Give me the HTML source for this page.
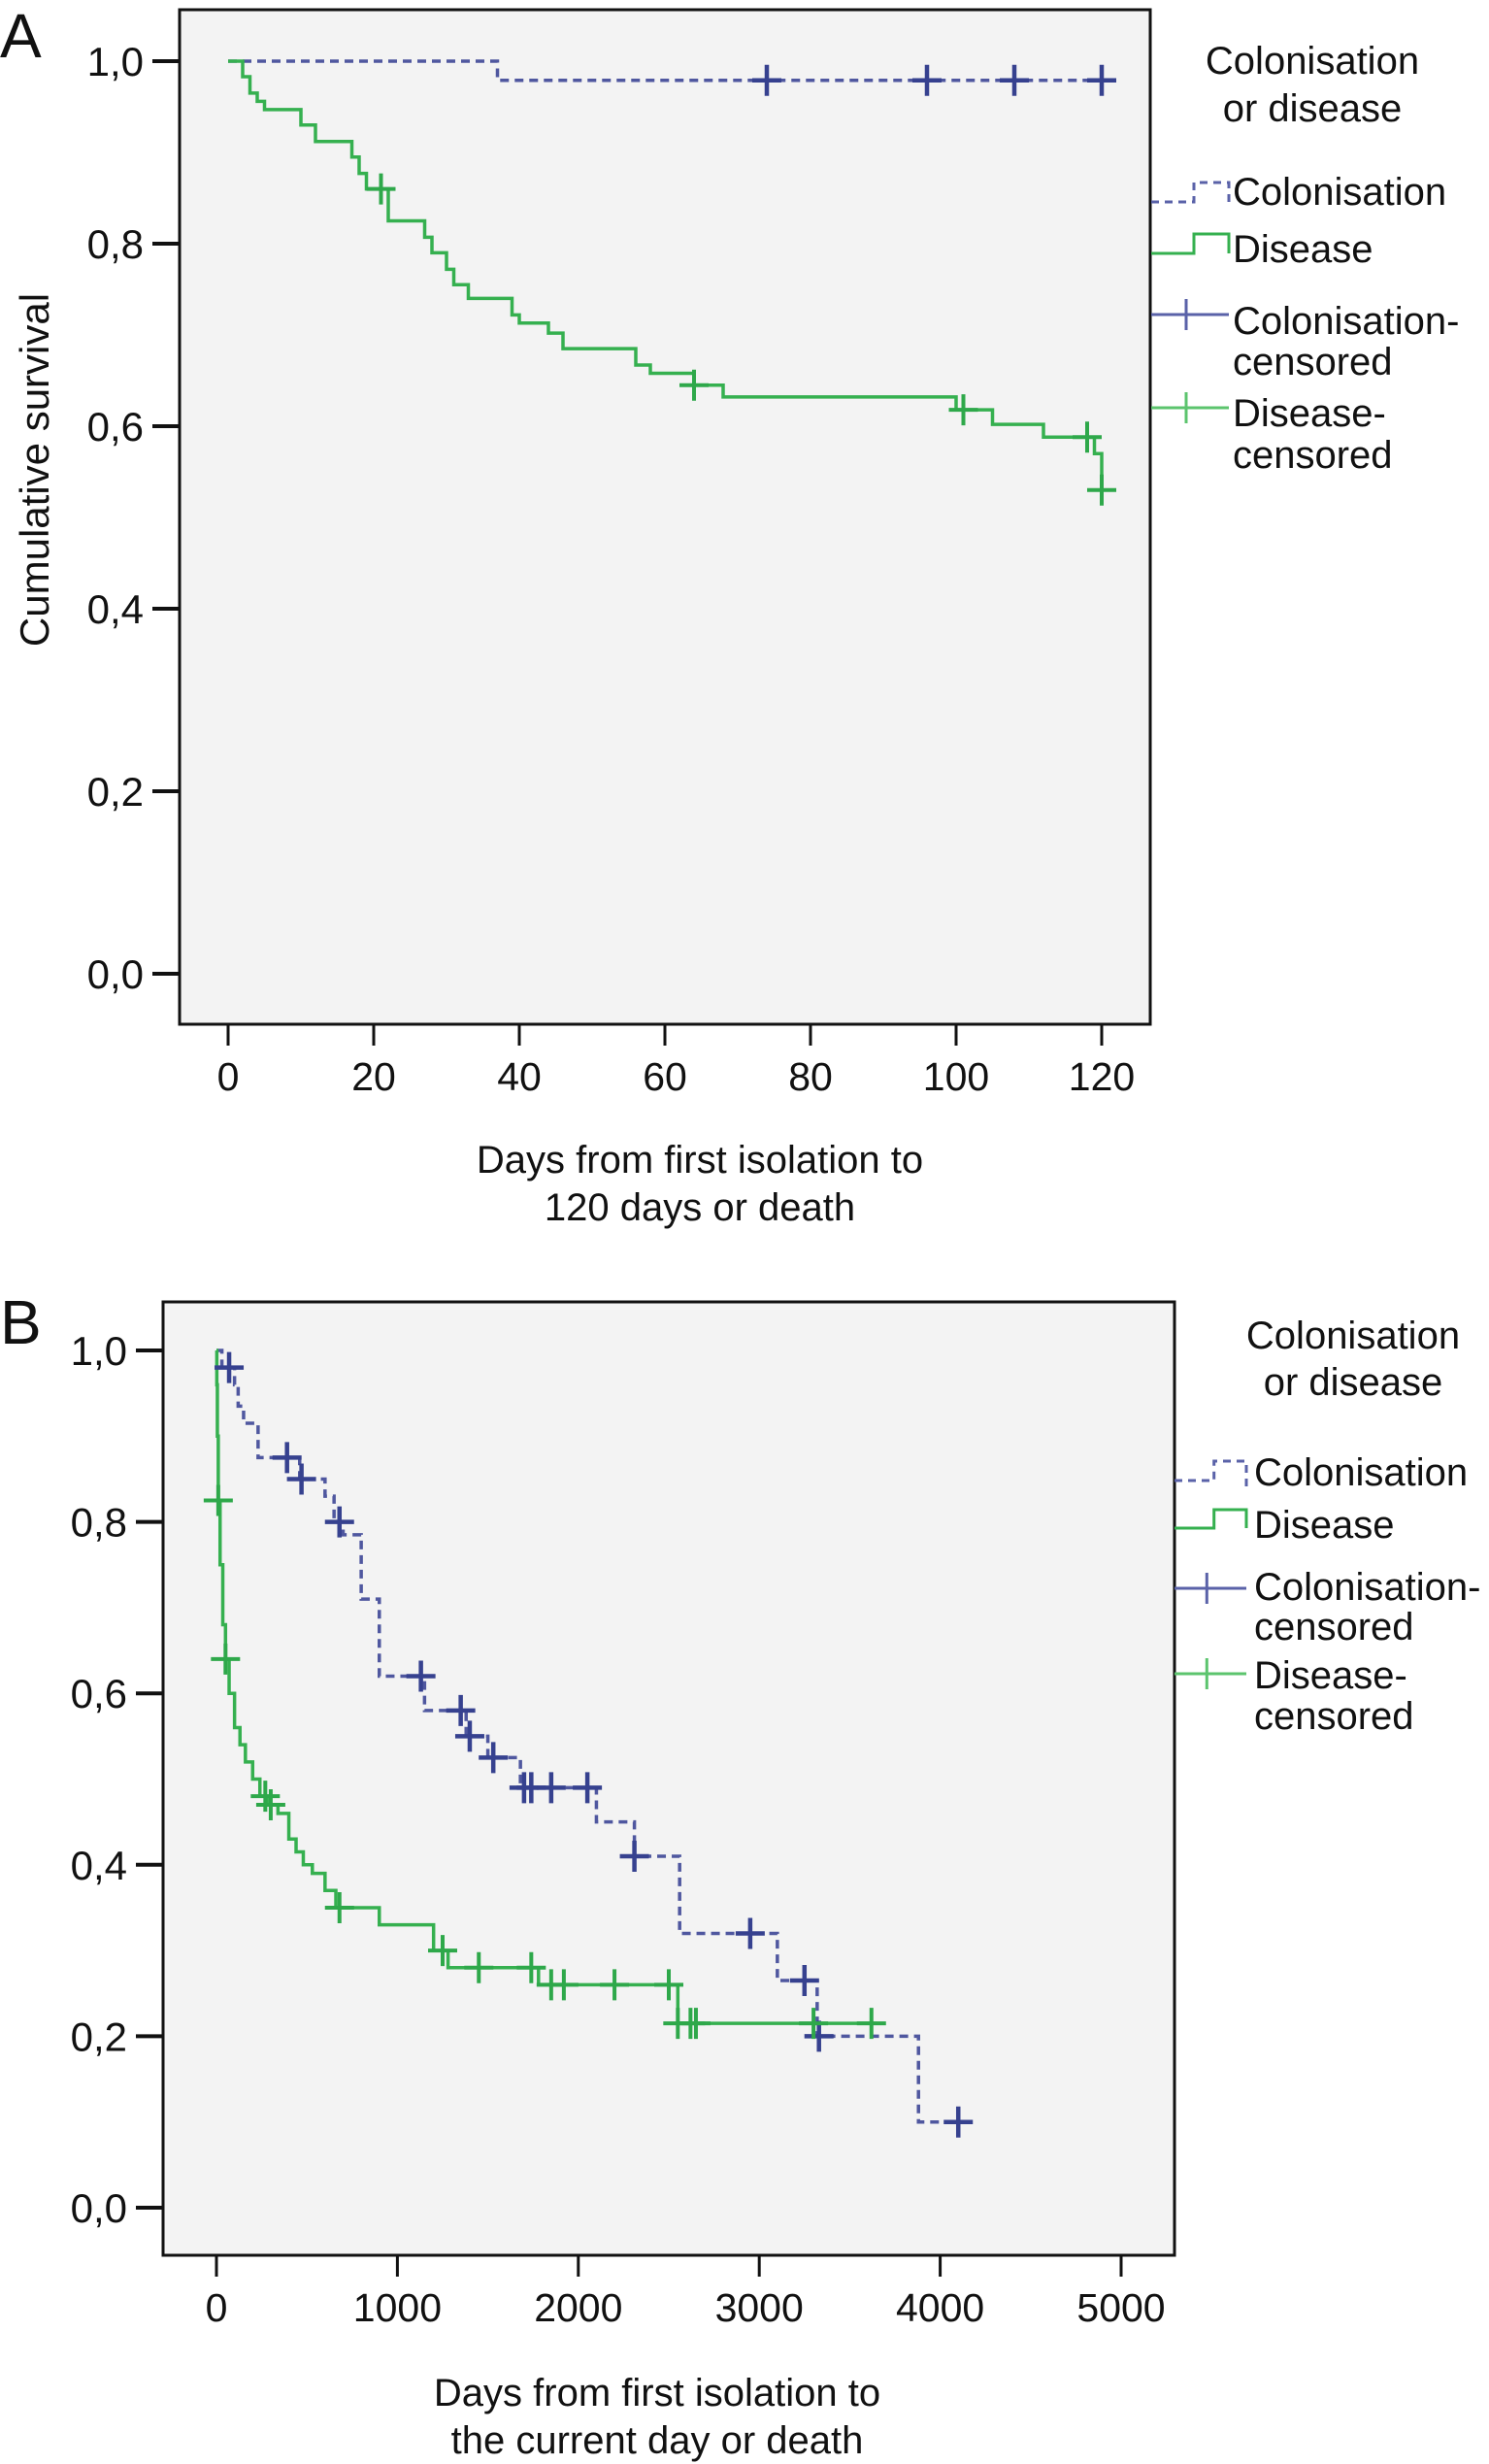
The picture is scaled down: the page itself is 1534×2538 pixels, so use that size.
<!DOCTYPE html>
<html><head><meta charset="utf-8">
<style>
html,body{margin:0;padding:0;background:#fff;}
svg{display:block;font-family:"Liberation Sans",sans-serif;}
</style></head>
<body>
<svg id="fig" width="1534" height="2538" viewBox="0 0 1534 2538" xmlns="http://www.w3.org/2000/svg"></svg>
<script>
// ---------- Panel A data ----------
const aColTimes = [37];
const aColSurv = [0.979];
const aColEnd = 120;
const aColCensor = [74, 96, 108, 120];
const aDisTimes = [2,3,4,5,10,12,14,17,18,19,22,27,28,30,31,33,39,40,44,46,56,58,64,68,100,105,112,119,120];
const aDisSurv = [0.983,0.965,0.956,0.947,0.93,0.912,0.912,0.895,0.877,0.86,0.825,0.807,0.79,0.772,0.755,0.74,0.722,0.713,0.702,0.685,0.667,0.658,0.645,0.632,0.618,0.602,0.588,0.57,0.53];
const aDisEnd = 120;
const aDisCensor = [21, 64, 101, 118, 120];
const aXTicks = [0,20,40,60,80,100,120];
const aYTicks = [0,0.2,0.4,0.6,0.8,1.0];

// ---------- Panel B data ----------
const bColTimes = [30,100,120,150,230,460,600,650,700,800,900,1150,1380,1500,1680,2100,2310,2560,3100,3320,3880];
const bColSurv = [0.98,0.96,0.935,0.915,0.875,0.85,0.83,0.80,0.785,0.71,0.62,0.58,0.55,0.525,0.49,0.45,0.41,0.32,0.265,0.20,0.10];
const bColEnd = 4100;
const bColCensor = [70,390,470,680,1130,1350,1400,1530,1700,1740,1850,2050,2310,2950,3250,3330,4100];
const bDisTimes = [2,5,10,20,35,50,70,100,130,160,200,240,280,340,400,440,480,530,600,660,900,1200,1280,1780,2550];
const bDisSurv = [0.96,0.9,0.825,0.75,0.68,0.64,0.6,0.56,0.54,0.52,0.5,0.48,0.47,0.46,0.43,0.415,0.40,0.39,0.37,0.35,0.33,0.30,0.28,0.26,0.215];
const bDisEnd = 3650;
const bDisCensor = [10,50,270,300,680,1250,1450,1740,1850,1920,2200,2500,2550,2620,2650,3300,3620];
const bXTicks = [0,1000,2000,3000,4000,5000];
const bYTicks = [0,0.2,0.4,0.6,0.8,1.0];

const NS = "http://www.w3.org/2000/svg";
const svg = document.getElementById('fig');
function mk(tag, attrs, parent){
  const e = document.createElementNS(NS, tag);
  for (const k in attrs) e.setAttribute(k, attrs[k]);
  (parent||svg).appendChild(e);
  return e;
}
function fmt(v){ return v.toFixed(1).replace('.', ','); }
function survAt(times, surv, t){
  let s = 1;
  for (let i=0;i<times.length;i++){ if (t >= times[i]) s = surv[i]; }
  return s;
}
function stepPath(times, surv, end, sx, sy){
  let d = 'M' + sx(0) + ' ' + sy(1);
  for (let i=0;i<times.length;i++){
    d += ' H' + sx(times[i]) + ' V' + sy(surv[i]);
  }
  d += ' H' + sx(end);
  return d;
}

function panel(cfg){
  const g = mk('g', {});
  
  
  const sx = v => cfg.x0 + (v - cfg.xmin) / (cfg.xmax - cfg.xmin) * (cfg.x1 - cfg.x0);
  const sy = v => cfg.y0 + v * (cfg.y1 - cfg.y0);
  const bg = mk('rect', {x:cfg.fl, y:cfg.ft, width:cfg.fr-cfg.fl, height:cfg.fb-cfg.ft, fill:'#f3f3f3', stroke:'#111', 'stroke-width':3}, g);
  
  
  cfg.yTicks.forEach(v => {
    const l = mk('line', {x1:cfg.fl-28, x2:cfg.fl, y1:sy(v), y2:sy(v), stroke:'#111', 'stroke-width':4}, g);
    
    
    const t = mk('text', {x:cfg.fl-37, y:sy(v)+15, 'text-anchor':'end', 'font-size':42, fill:'#111'}, g);
    t.textContent = fmt(v);
    
    
  });
  cfg.xTicks.forEach(v => {
    const l = mk('line', {x1:sx(v), x2:sx(v), y1:cfg.fb, y2:cfg.fb+22, stroke:'#111', 'stroke-width':3}, g);
    
    
    const t = mk('text', {x:sx(v), y:cfg.fb+68, 'text-anchor':'middle', 'font-size':41, fill:'#111'}, g);
    t.textContent = String(v);
    
    
  });
  const pc = mk('path', {d:stepPath(cfg.colT, cfg.colS, cfg.colEnd, sx, sy), fill:'none', stroke:'#4f579f', 'stroke-width':3.5, 'stroke-dasharray':'9 6'}, g);
  
  
  const pd = mk('path', {d:stepPath(cfg.disT, cfg.disS, cfg.disEnd, sx, sy), fill:'none', stroke:'#35b04f', 'stroke-width':3.5}, g);
  
  
  cfg.colC.forEach(t => {
    const x = sx(t), y = sy(survAt(cfg.colT, cfg.colS, t));
    const c = mk('path', {d:`M${x-15} ${y} H${x+15} M${x} ${y-16} V${y+16}`, stroke:'#36418f', 'stroke-width':4.5, fill:'none'}, g);
    
    
  });
  cfg.disC.forEach(t => {
    const x = sx(t), y = sy(survAt(cfg.disT, cfg.disS, t));
    const c = mk('path', {d:`M${x-15} ${y} H${x+15} M${x} ${y-16} V${y+16}`, stroke:'#2ea84a', 'stroke-width':4, fill:'none'}, g);
    
    
  });
  const xt = cfg.xTitle;
  xt.lines.forEach((s,i) => {
    const t = mk('text', {x:xt.x, y:xt.y + i*49, 'text-anchor':'middle', 'font-size':40, fill:'#111'}, g);
    t.textContent = s;
    
    
  });
  const L = cfg.leg;
  const lg = mk('g', {}, g);
  
  
  [[L.t1,'Colonisation'],[L.t2,'or disease']].forEach(([y,s]) => {
    const t = mk('text', {x:L.tx, y:y, 'text-anchor':'middle', 'font-size':40, fill:'#111'}, lg);
    t.textContent = s;
    
    
  });
  const xl = L.sx0, xr = L.sx1, xm = xl + (xr-xl)*0.55;
  const s1 = mk('path', {d:`M${xl} ${L.c1lo} H${xm} V${L.c1hi} H${xr} V${L.c1lo+6}`, fill:'none', stroke:'#5a62a8', 'stroke-width':3, 'stroke-dasharray':'8 6'}, lg);
  
  
  const s2 = mk('path', {d:`M${xl} ${L.d1lo} H${xm} V${L.d1hi} H${xr} V${L.d1lo}`, fill:'none', stroke:'#35b04f', 'stroke-width':3}, lg);
  
  
  const s3 = mk('path', {d:`M${xl} ${L.cc} H${xr} M${xl+(xr-xl)*0.45} ${L.cc-16} V${L.cc+16}`, fill:'none', stroke:'#5a62a8', 'stroke-width':3}, lg);
  
  
  const s4 = mk('path', {d:`M${xl} ${L.dc} H${xr} M${xl+(xr-xl)*0.45} ${L.dc-16} V${L.dc+16}`, fill:'none', stroke:'#5cc46e', 'stroke-width':3}, lg);
  
  
  L.entries.forEach(([y,s]) => {
    const t = mk('text', {x:L.ex, y:y, 'font-size':40, fill:'#111'}, lg);
    t.textContent = s;
    
    
  });
  const pl = mk('text', {x:0, y:cfg.letterY, 'font-size':64, fill:'#111'}, g);
  pl.textContent = cfg.letter;
  
  
}

panel({
  name:'chart-a', letter:'A', letterY:59,
  fl:185, ft:10, fr:1185, fb:1055,
  x0:235, x1:1135, xmin:0, xmax:120, y0:1003, y1:63,
  xTicks:aXTicks, yTicks:aYTicks,
  colT:aColTimes, colS:aColSurv, colEnd:aColEnd, colC:aColCensor,
  disT:aDisTimes, disS:aDisSurv, disEnd:aDisEnd, disC:aDisCensor,
  xTitle:{x:721, y:1208, lines:['Days from first isolation to','120 days or death']},
  leg:{tx:1352, t1:76, t2:125, sx0:1186, sx1:1266, c1lo:208, c1hi:188, d1lo:261, d1hi:241, cc:324, dc:420, ex:1270,
       entries:[[211,'Colonisation'],[270,'Disease'],[344,'Colonisation-'],[386,'censored'],[439,'Disease-'],[482,'censored']]}
});
panel({
  name:'chart-b', letter:'B', letterY:1384,
  fl:168, ft:1341, fr:1210, fb:2323,
  x0:223, x1:1155, xmin:0, xmax:5000, y0:2274, y1:1391,
  xTicks:bXTicks, yTicks:bYTicks,
  colT:bColTimes, colS:bColSurv, colEnd:bColEnd, colC:bColCensor,
  disT:bDisTimes, disS:bDisSurv, disEnd:bDisEnd, disC:bDisCensor,
  xTitle:{x:677, y:2478, lines:['Days from first isolation to','the current day or death']},
  leg:{tx:1394, t1:1389, t2:1437, sx0:1210, sx1:1284, c1lo:1525, c1hi:1505, d1lo:1574, d1hi:1555, cc:1636, dc:1724, ex:1292,
       entries:[[1530,'Colonisation'],[1584,'Disease'],[1648,'Colonisation-'],[1689,'censored'],[1739,'Disease-'],[1781,'censored']]}
});
const yt = mk('text', {x:0, y:0, 'text-anchor':'middle', 'font-size':42, fill:'#111', transform:'translate(50,484) rotate(-90)'});
yt.textContent = 'Cumulative survival';


</script>
</body></html>
